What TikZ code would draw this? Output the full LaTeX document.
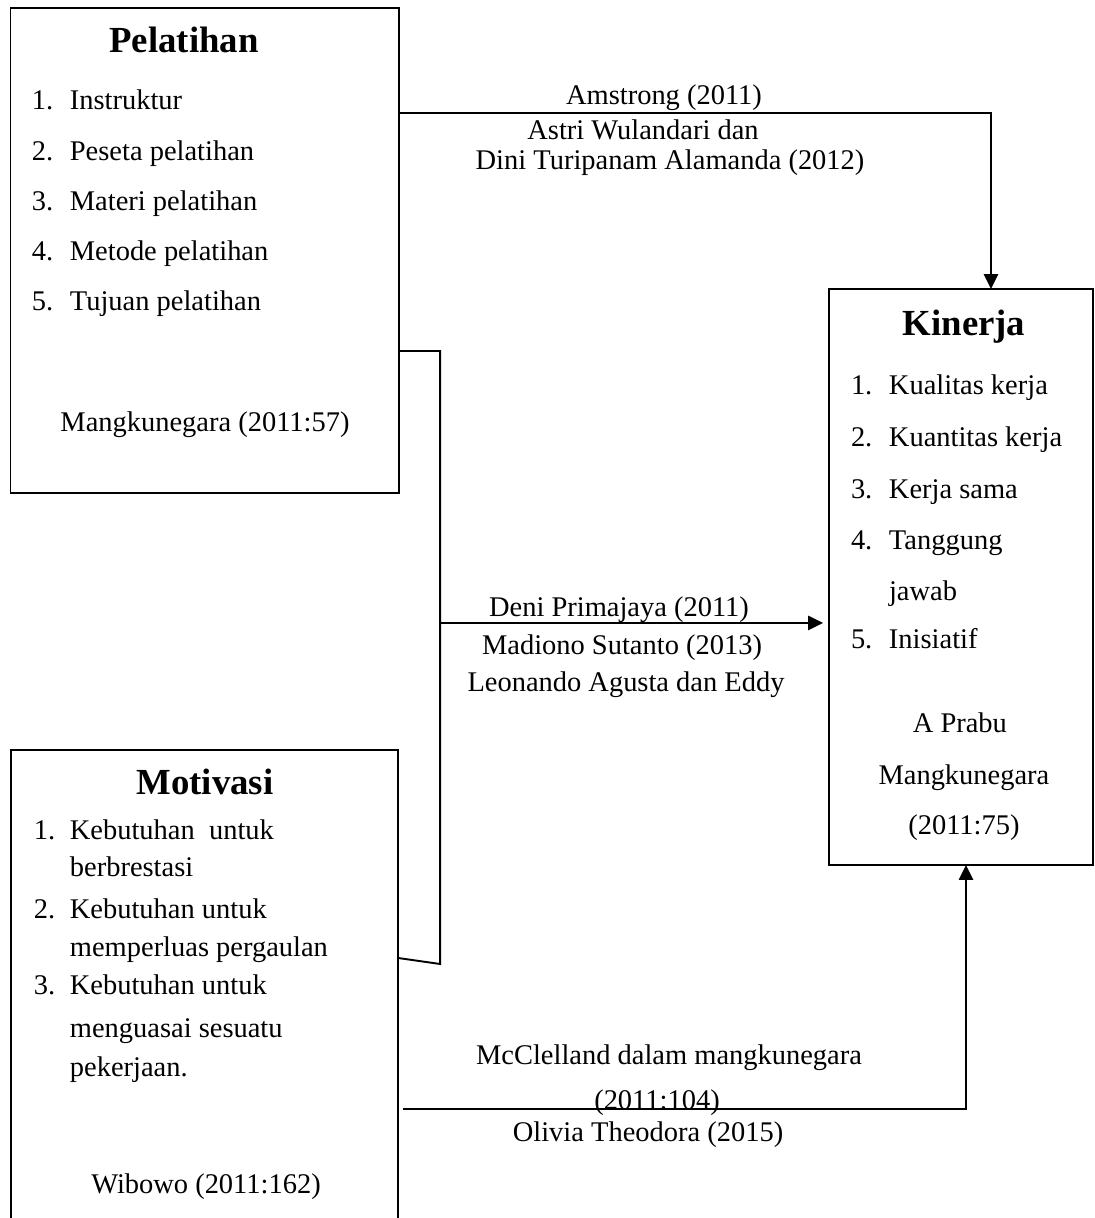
\documentclass[tikz,border=0pt]{standalone}
\usepackage{fontspec}
\setmainfont{Liberation Serif}
\usetikzlibrary{arrows.meta}

\begin{document}
\begin{tikzpicture}[line width=0.8pt]
        \tikzstyle{varbox}=[rectangle,draw=black,inner sep=0pt,outer sep=0pt]
        \tikzstyle{boxtitle}=[font=\fontsize{15.5}{18}\selectfont\bfseries,anchor=base,inner sep=0pt]
        \tikzstyle{listtext}=[font=\fontsize{12}{14}\selectfont,anchor=base west,inner sep=0pt]
        \tikzstyle{reftext}=[font=\fontsize{12}{14}\selectfont,anchor=base,inner sep=0pt]
        \tikzstyle{arrowlink}=[draw,-{Triangle[length=6.3pt,width=6pt]}]
        \tikzstyle{plainlink}=[draw]
       \useasboundingbox (0,0) rectangle (16.207,18.044);
       \clip (0,0) rectangle (16.207,18.044);
       \begin{scope}
         \node [varbox,minimum width=5.756cm,minimum height=7.178cm] (pelatihan) at (3.033,14.330) {};
         \node [varbox,minimum width=3.911cm,minimum height=8.533cm] (kinerja) at (14.237,9.496) {};
         \node [varbox,minimum width=5.738cm,minimum height=7.556cm] (motivasi) at (3.027,3.156) {};

         \node [boxtitle] (pelTitle) at (2.726,17.259) {Pelatihan};
         \node [listtext] (p1) at (0.459,16.415) {\makebox[0.563cm][l]{1.}Instruktur};
         \node [listtext] (p2) at (0.459,15.659) {\makebox[0.563cm][l]{2.}Peseta pelatihan};
         \node [listtext] (p3) at (0.459,14.919) {\makebox[0.563cm][l]{3.}Materi pelatihan};
         \node [listtext] (p4) at (0.459,14.178) {\makebox[0.563cm][l]{4.}Metode pelatihan};
         \node [listtext] (p5) at (0.459,13.437) {\makebox[0.563cm][l]{5.}Tujuan pelatihan};
         \node [reftext] (pelRef) at (3.037,11.644) {Mangkunegara (2011:57)};

         \node [boxtitle] (kinTitle) at (14.281,13.067) {Kinerja};
         \node [listtext] (k1) at (12.593,12.193) {\makebox[0.563cm][l]{1.}Kualitas kerja};
         \node [listtext] (k2) at (12.593,11.422) {\makebox[0.563cm][l]{2.}Kuantitas kerja};
         \node [listtext] (k3) at (12.593,10.652) {\makebox[0.563cm][l]{3.}Kerja sama};
         \node [listtext] (k4) at (12.593,9.896) {\makebox[0.563cm][l]{4.}Tanggung};
         \node [listtext] (k4b) at (13.156,9.141) {jawab};
         \node [listtext] (k5) at (12.593,8.430) {\makebox[0.563cm][l]{5.}Inisiatif};
         \node [reftext] (kinRef1) at (14.22,7.185) {A Prabu};
         \node [reftext] (kinRef2) at (14.28,6.415) {Mangkunegara};
         \node [reftext] (kinRef3) at (14.28,5.674) {(2011:75)};

         \node [boxtitle] (motTitle) at (3.037,6.267) {Motivasi};
         \node [listtext] (m1) at (0.489,5.600) {\makebox[0.533cm][l]{1.}Kebutuhan\ \ untuk};
         \node [listtext] (m1b) at (1.022,5.052) {berbrestasi};
         \node [listtext] (m2) at (0.489,4.444) {\makebox[0.533cm][l]{2.}Kebutuhan untuk};
         \node [listtext] (m2b) at (1.022,3.867) {memperluas pergaulan};
         \node [listtext] (m3) at (0.489,3.304) {\makebox[0.533cm][l]{3.}Kebutuhan untuk};
         \node [listtext] (m3b) at (1.022,2.667) {menguasai sesuatu};
         \node [listtext] (m3c) at (1.022,2.089) {pekerjaan.};
         \node [reftext] (motRef) at (3.052,0.370) {Wibowo (2011:162)};

         \coordinate (a1) at (14.681,16.370);
         \coordinate (b1) at (6.519,12.844);
         \coordinate (b2) at (6.519,3.763);
         \coordinate (b3) at (5.896,3.852);
         \coordinate (b4) at (6.519,8.815);
         \coordinate (c1) at (14.311,1.615);

         \path[arrowlink] (a1 -| pelatihan.east) -- (a1) -- (a1 |- kinerja.north);
         \path[plainlink] (b1 -| pelatihan.east) -- (b1) -- (b2) -- (b3);
         \path[arrowlink,shorten >=2.5pt] (b4) -- (b4 -| kinerja.west);
         \path[arrowlink,shorten <=2pt] (c1 -| motivasi.east) -- (c1) -- (c1 |- kinerja.south);

         \node [reftext] (lblA1) at (9.837,16.489) {Amstrong (2011)};
         \node [reftext] (lblA2) at (9.526,15.970) {Astri Wulandari dan};
         \node [reftext] (lblA3) at (9.926,15.526) {Dini Turipanam Alamanda (2012)};
         \node [reftext] (lblB1) at (9.170,8.904) {Deni Primajaya (2011)};
         \node [reftext] (lblB2) at (9.215,8.341) {Madiono Sutanto (2013)};
         \node [reftext] (lblB3) at (9.274,7.793) {Leonando Agusta dan Eddy};
         \node [reftext] (lblC1) at (9.911,2.267) {McClelland dalam mangkunegara};
         \node [reftext] (lblC2) at (9.733,1.600) {(2011:104)};
         \node [reftext] (lblC3) at (9.600,1.126) {Olivia Theodora (2015)};
        \end{scope}
      \end{tikzpicture}
\end{document}
